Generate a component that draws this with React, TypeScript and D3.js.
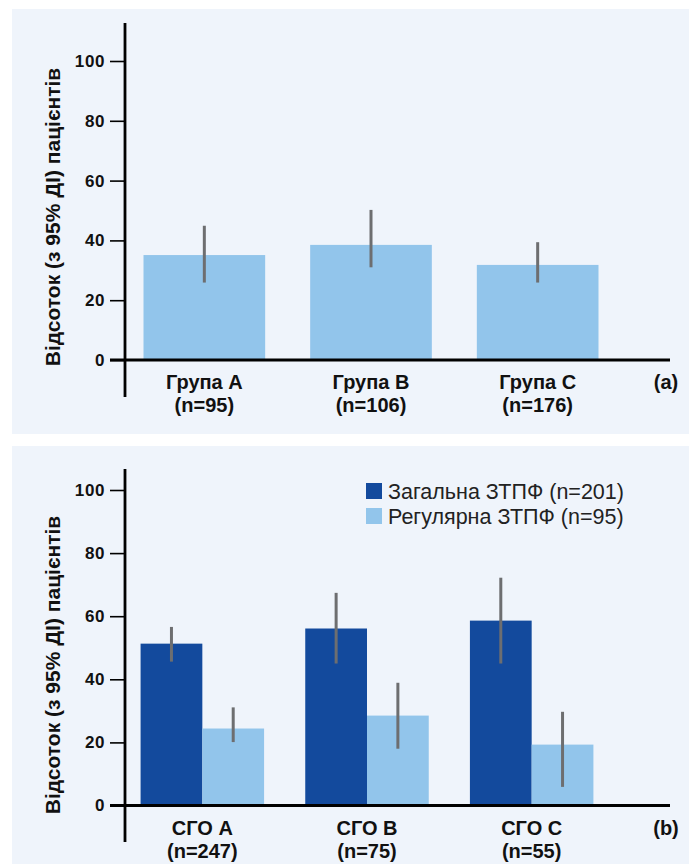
import React, { useEffect, useRef } from "react";
import { select, scaleBand, scaleLinear, axisLeft } from "d3";

// panel (a)
const groupsA = ["Група A", "Група B", "Група C"];
const nA = ["(n=95)", "(n=106)", "(n=176)"];
const valuesA = [35.1, 38.5, 31.8];
const lowA = [25.9, 31.0, 25.9];
const highA = [44.9, 50.2, 39.4];

// panel (b)
const groupsB = ["СГО A", "СГО B", "СГО C"];
const nB = ["(n=247)", "(n=75)", "(n=55)"];
const seriesB = ["Загальна ЗТПФ (n=201)", "Регулярна ЗТПФ (n=95)"];
const totalB = [51.3, 56.1, 58.6];
const totalLowB = [45.6, 45.0, 45.0];
const totalHighB = [56.6, 67.4, 72.2];
const regularB = [24.4, 28.5, 19.3];
const regularLowB = [20.1, 18.0, 5.9];
const regularHighB = [31.1, 38.9, 29.7];

const yTicks = [0, 20, 40, 60, 80, 100];
const yTitle = "Відсоток (з 95% ДІ) пацієнтів";

const BG = "#eff4fb";
const LIGHT = "#92c5eb";
const DARK = "#134a9d";
const ERR = "#6d6e70";
const FONT = "'Liberation Sans', Arial, sans-serif";

function drawAxes(g, y, axisX, axisTop, axisBottom, zeroY, xEnd, tag, title, titleY) {
    // y ticks
    const ax = g.append("g")
        .attr("transform", `translate(${axisX},0)`)
        .call(axisLeft(y).tickValues(yTicks).tickSize(15).tickPadding(5));
    ax.select(".domain").remove();
    ax.selectAll(".tick line").attr("stroke", "#000").attr("stroke-width", 1.6);
    ax.selectAll(".tick text")
        .attr("fill", "#111")
        .attr("font-family", FONT)
        .attr("font-weight", "bold")
        .attr("font-size", 17)
        .attr("letter-spacing", 0.6);

    // vertical axis line
    g.append("line")
        .attr("x1", axisX).attr("x2", axisX)
        .attr("y1", axisTop).attr("y2", axisBottom)
        .attr("stroke", "#000").attr("stroke-width", 2.8);

    // baseline
    g.append("line")
        .attr("x1", axisX - 15).attr("x2", xEnd)
        .attr("y1", zeroY).attr("y2", zeroY)
        .attr("stroke", "#000").attr("stroke-width", 2.8);

    g.append("text")
        .attr("x", 666).attr("y", zeroY + 29)
        .attr("text-anchor", "middle")
        .attr("font-family", FONT).attr("font-weight", "bold").attr("font-size", 20)
        .attr("fill", "#111")
        .text(tag);

    g.append("text")
        .attr("transform", `translate(60,${titleY}) rotate(-90)`)
        .attr("text-anchor", "middle")
        .attr("font-family", FONT).attr("font-weight", "bold").attr("font-size", 21)
        .attr("fill", "#111")
        .text(title);
}

function drawLabels(g, x, cats, ns, zeroY) {
    const lab = g.selectAll(".cat")
        .data(cats)
        .join("text")
        .attr("class", "cat")
        .attr("text-anchor", "middle")
        .attr("font-family", FONT).attr("font-weight", "bold").attr("font-size", 20)
        .attr("fill", "#111");
    lab.append("tspan")
        .attr("x", d => x(d) + x.bandwidth() / 2)
        .attr("y", zeroY + 29)
        .text(d => d);
    lab.append("tspan")
        .attr("x", d => x(d) + x.bandwidth() / 2)
        .attr("y", zeroY + 52)
        .text((d, i) => ns[i]);
}

function Chart() {
    const svgRef = useRef(null);

    useEffect(() => {
        document.body.style.margin = "0";
        const svg = select(svgRef.current);
        svg.selectAll("*").remove();

        // panel backgrounds
        svg.append("rect").attr("x", 12).attr("y", 9).attr("width", 677).attr("height", 425).attr("fill", BG);
        svg.append("rect").attr("x", 12).attr("y", 446).attr("width", 677).attr("height", 430).attr("fill", BG);

        // ---- panel (a)
        const gA = svg.append("g");
        const yA = scaleLinear().domain([0, 100]).range([360, 61]);
        const xA = scaleBand().domain(groupsA).range([121, 621]).paddingInner(0.27).paddingOuter(0.135);

        gA.selectAll(".bar")
            .data(groupsA)
            .join("rect")
            .attr("class", "bar")
            .attr("x", d => xA(d))
            .attr("width", xA.bandwidth())
            .attr("y", (d, i) => yA(valuesA[i]))
            .attr("height", (d, i) => yA(0) - yA(valuesA[i]))
            .attr("fill", LIGHT);

        gA.selectAll(".err")
            .data(groupsA)
            .join("line")
            .attr("class", "err")
            .attr("x1", d => xA(d) + xA.bandwidth() / 2)
            .attr("x2", d => xA(d) + xA.bandwidth() / 2)
            .attr("y1", (d, i) => yA(lowA[i]))
            .attr("y2", (d, i) => yA(highA[i]))
            .attr("stroke", ERR).attr("stroke-width", 3);

        drawAxes(gA, yA, 125, 23, 397, yA(0), 670, "(a)", yTitle, 217);
        drawLabels(gA, xA, groupsA, nA, yA(0));

        // ---- panel (b)
        const gB = svg.append("g");
        const yB = scaleLinear().domain([0, 100]).range([805.5, 490]);
        const xB = scaleBand().domain(groupsB).range([120, 614]).paddingInner(0.25).paddingOuter(0.125);
        const xSub = scaleBand().domain(seriesB).range([0, xB.bandwidth()]);
        const colors = [DARK, LIGHT];

        const rows = groupsB.flatMap((grp, i) => [
            { grp, s: seriesB[0], v: totalB[i], lo: totalLowB[i], hi: totalHighB[i], c: 0 },
            { grp, s: seriesB[1], v: regularB[i], lo: regularLowB[i], hi: regularHighB[i], c: 1 },
        ]);

        gB.selectAll(".bar")
            .data(rows)
            .join("rect")
            .attr("class", "bar")
            .attr("x", d => xB(d.grp) + xSub(d.s))
            .attr("width", xSub.bandwidth())
            .attr("y", d => yB(d.v))
            .attr("height", d => yB(0) - yB(d.v))
            .attr("fill", d => colors[d.c]);

        gB.selectAll(".err")
            .data(rows)
            .join("line")
            .attr("class", "err")
            .attr("x1", d => xB(d.grp) + xSub(d.s) + xSub.bandwidth() / 2)
            .attr("x2", d => xB(d.grp) + xSub(d.s) + xSub.bandwidth() / 2)
            .attr("y1", d => yB(d.lo))
            .attr("y2", d => yB(d.hi))
            .attr("stroke", ERR).attr("stroke-width", 3);

        drawAxes(gB, yB, 125, 469, 842, yB(0), 670, "(b)", yTitle, 665);
        drawLabels(gB, xB, groupsB, nB, yB(0));

        // legend
        const leg = gB.selectAll(".leg")
            .data(seriesB)
            .join("g")
            .attr("class", "leg")
            .attr("transform", (d, i) => `translate(366,${483 + i * 25})`);
        leg.append("rect").attr("width", 16).attr("height", 16).attr("fill", (d, i) => colors[i]);
        leg.append("text")
            .attr("x", 22).attr("y", 15.5)
            .attr("font-family", FONT).attr("font-size", 21.5)
            .attr("fill", "#222")
            .text(d => d);
    }, []);

    return <svg ref={svgRef} width={694} height={864} style={{ display: "block" }} />;
}

export default function App() {
    return <Chart />;
}
